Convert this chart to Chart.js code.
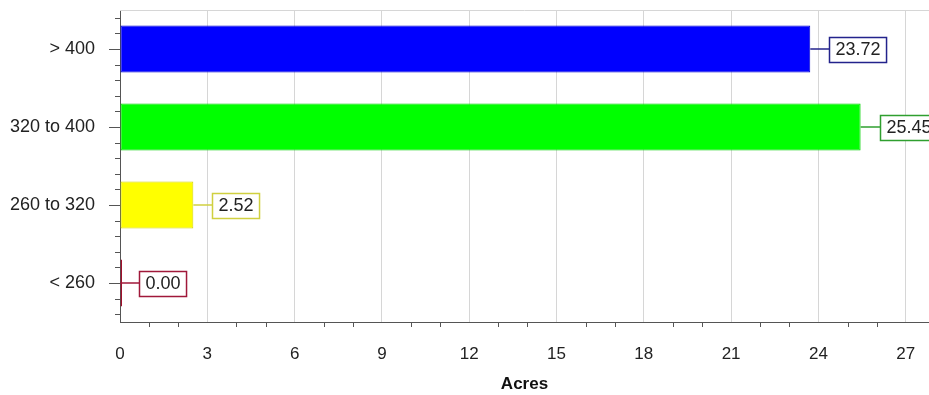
<!DOCTYPE html>
<html>
<head>
<meta charset="utf-8">
<script src="https://cdn.jsdelivr.net/npm/chart.js@4"></script>
<style>
  body { margin: 0; background: #fff; }
  canvas { display: block; }
</style>
</head>
<body>
<canvas id="chart" width="929" height="395"></canvas>
<script>
let categories = ["> 400", "320 to 400", "260 to 320", "< 260"];
let acres = [23.72, 25.45, 2.52, 0.00];
let xTicks = [0, 3, 6, 9, 12, 15, 18, 21, 24, 27];
let tickStep = 3;
let axisMax = 27.8;

let barColors = ["#0000ff", "#00ff00", "#ffff00", "#b0102c"];
let barBorders = ["#0000d0", "#00d000", "#d4d400", "#a0102c"];
let boxColors = ["#23238c", "#2f9f2f", "#d0d040", "#a0183a"];

const fontFamily = "'Liberation Sans', Arial, sans-serif";
const labelFont = "18px " + fontFamily;

// minor ticks, top border line and the boxed value labels
const extras = {
  id: "extras",
  afterDatasetsDraw(chart) {
    const ctx = chart.ctx;
    const xs = chart.scales.x, ys = chart.scales.y, area = chart.chartArea;
    ctx.save();
    ctx.strokeStyle = "#d6d6d6";
    ctx.lineWidth = 1;
    ctx.beginPath();
    ctx.moveTo(area.left, area.top + 0.5);
    ctx.lineTo(area.right, area.top + 0.5);
    ctx.stroke();

    ctx.strokeStyle = "#555";
    ctx.beginPath();
    for (let v = 1; v < axisMax; v++) {
      if (v % tickStep == 0) continue;
      let px = Math.round(xs.getPixelForValue(v)) + 0.5;
      ctx.moveTo(px, area.bottom);
      ctx.lineTo(px, area.bottom + 5);
    }
    let c0 = ys.getPixelForValue(0);
    let step = (ys.getPixelForValue(1) - c0) / 5;
    for (let k = -2; k <= (categories.length - 1) * 5 + 2; k++) {
      let py = Math.round(c0 + k * step) + 0.5;
      let len = (k % 5 == 0) ? 11 : 5;
      ctx.moveTo(area.left - len, py);
      ctx.lineTo(area.left, py);
    }
    ctx.stroke();

    const meta = chart.getDatasetMeta(0);
    ctx.font = labelFont;
    ctx.textBaseline = "middle";
    ctx.textAlign = "left";
    meta.data.forEach((bar, i) => {
      let txt = acres[i].toFixed(2);
      let w = ctx.measureText(txt).width + 12;
      let h = 25;
      let x0 = xs.getPixelForValue(acres[i]);
      let bx = Math.round(x0 + 19) + 0.5;
      let by = Math.round(bar.y - h / 2) + 0.5;
      ctx.strokeStyle = boxColors[i];
      ctx.lineWidth = 1.5;
      ctx.beginPath();
      ctx.moveTo(x0, bar.y);
      ctx.lineTo(bx, bar.y);
      ctx.stroke();
      ctx.fillStyle = "#fff";
      ctx.fillRect(bx, by, w, h);
      ctx.strokeRect(bx, by, w, h);
      ctx.fillStyle = "#222";
      ctx.fillText(txt, bx + 6, bar.y + 1);
    });
    ctx.restore();
  }
};

new Chart(document.getElementById("chart"), {
  type: "bar",
  data: {
    labels: categories,
    datasets: [{
      data: acres,
      backgroundColor: barColors,
      borderColor: barBorders,
      borderWidth: 1,
      borderSkipped: false,
      minBarLength: 2,
      categoryPercentage: 1,
      barPercentage: 0.6
    }]
  },
  options: {
    indexAxis: "y",
    responsive: false,
    animation: false,
    events: [],
    layout: { padding: { top: 10, right: 0, left: 0, bottom: 0 } },
    plugins: { legend: { display: false }, tooltip: { enabled: false } },
    scales: {
      x: {
        min: 0,
        max: axisMax,
        afterFit: s => { s.height = 73; s.paddingLeft = 0; s.paddingRight = 0; },
        afterBuildTicks: s => { s.ticks = xTicks.map(v => ({ value: v })); },
        ticks: {
          padding: 22,
          color: "#222",
          font: { family: fontFamily, size: 17 }
        },
        grid: {
          color: ctx => ctx.tick && ctx.tick.value == 0 ? "rgba(0,0,0,0)" : "#d6d6d6",
          drawTicks: false
        },
        border: { color: "#555", width: 1 },
        title: {
          display: true,
          text: "Acres",
          color: "#111",
          padding: { top: 0, bottom: 0 },
          font: { family: fontFamily, size: 17, weight: "bold" }
        }
      },
      y: {
        afterFit: s => { s.width = 120; s.paddingTop = 0; s.paddingBottom = 0; },
        grid: { display: false },
        border: { color: "#555", width: 1 },
        ticks: {
          padding: 17,
          color: "#222",
          font: { family: fontFamily, size: 18 }
        }
      }
    }
  },
  plugins: [extras]
});
</script>
</body>
</html>
